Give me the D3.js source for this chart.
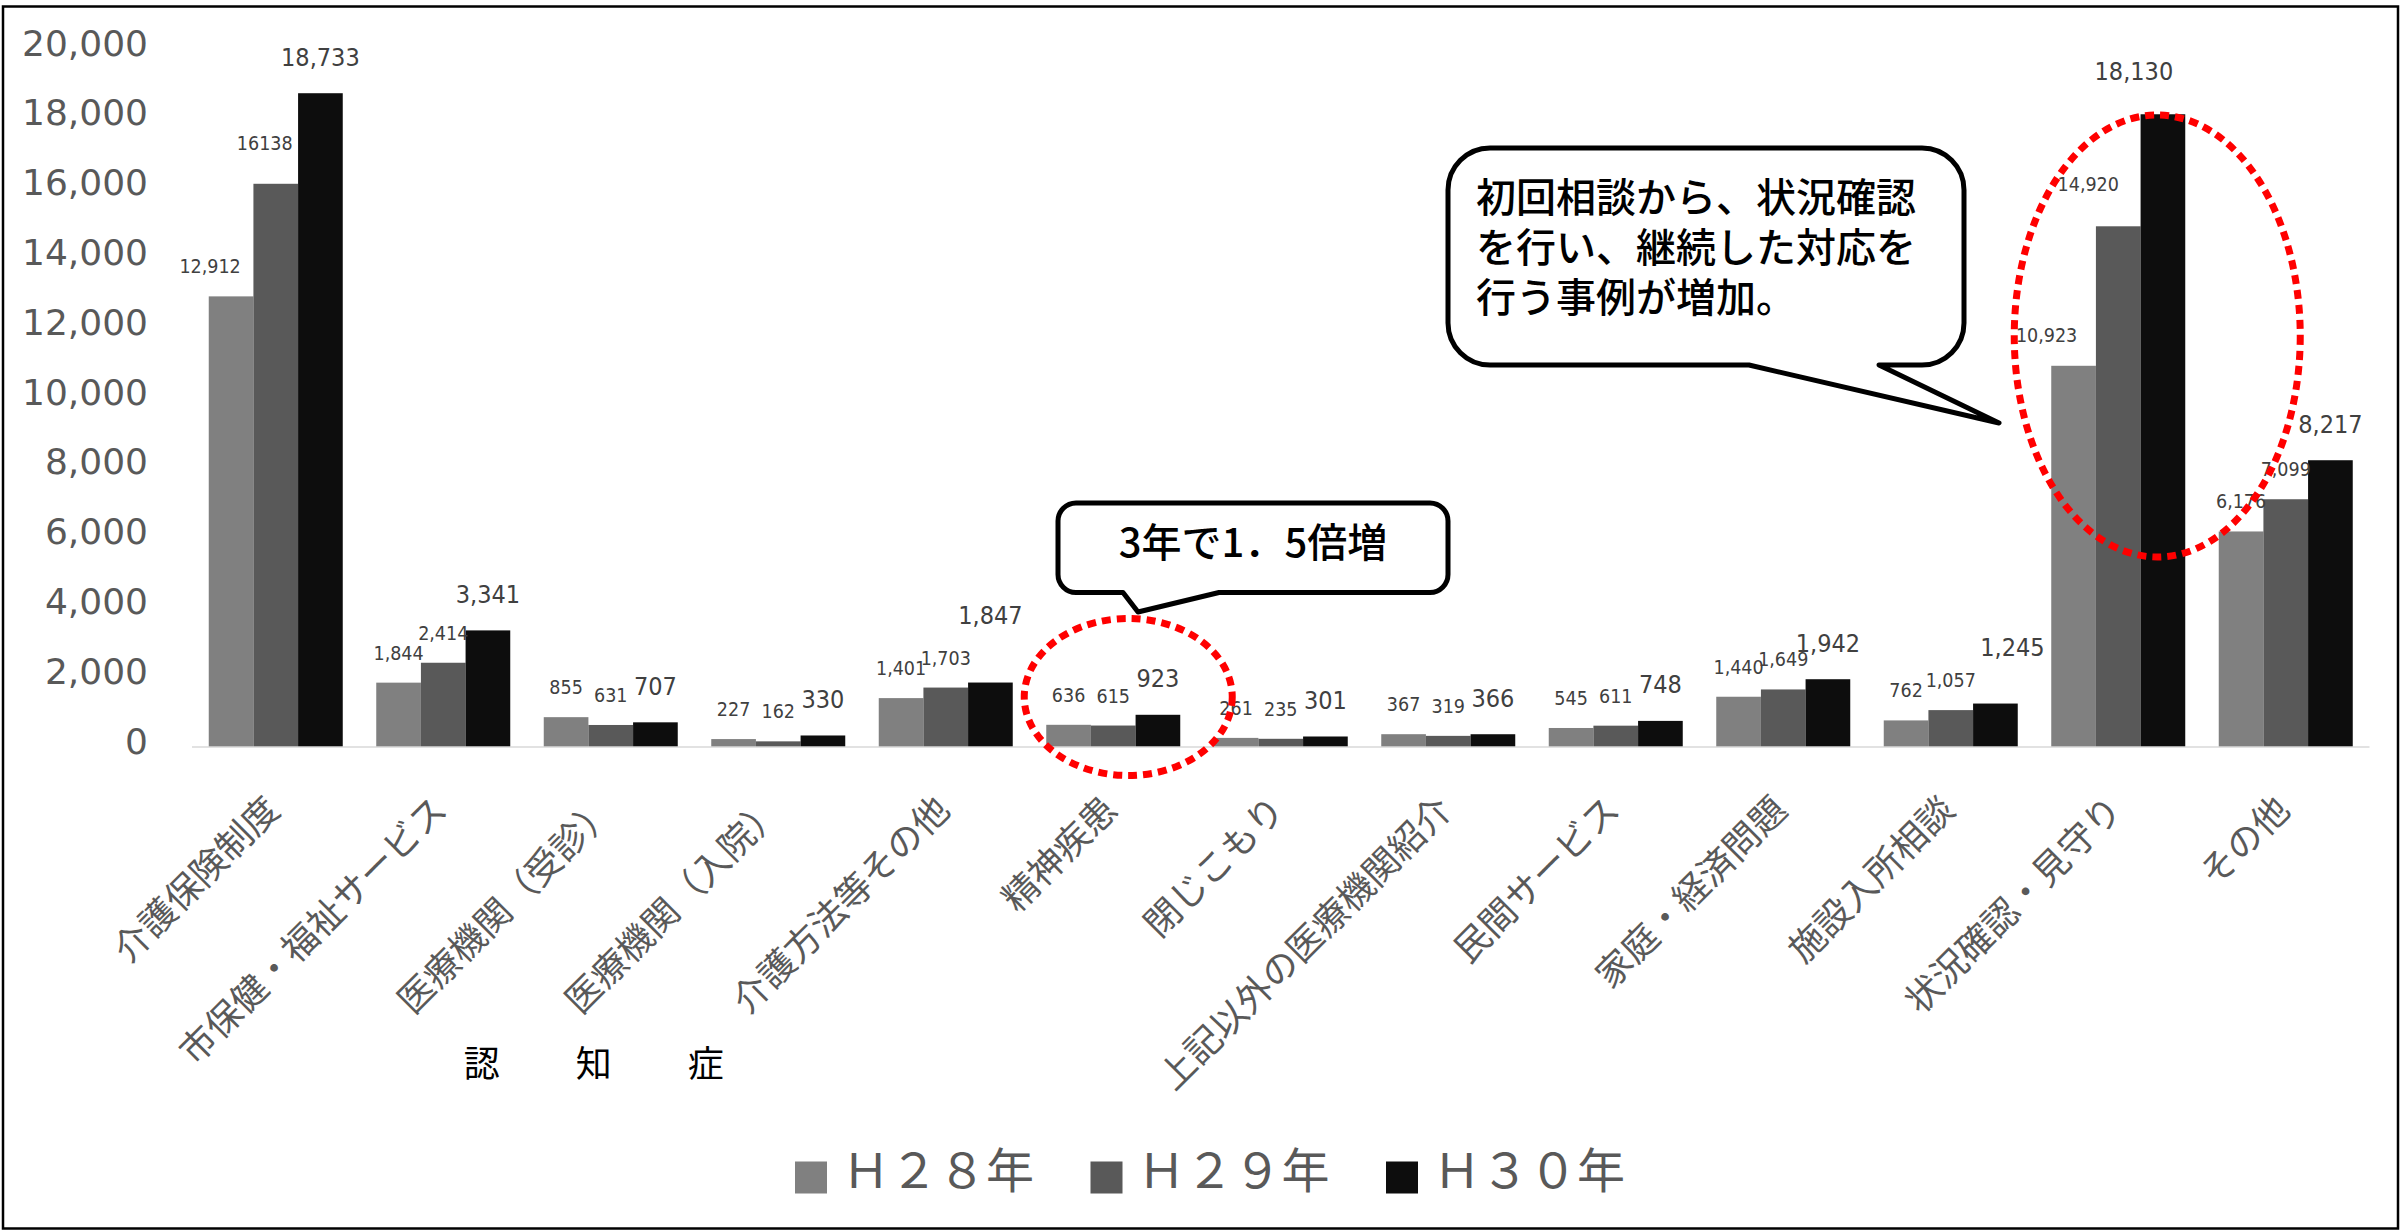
<!DOCTYPE html>
<html>
<head>
<meta charset="utf-8">
<script src="https://d3js.org/d3.v7.min.js"></script>
<style>
  body { margin: 0; background: #fff; }
  svg { display: block; }
</style>
</head>
<body>
<div id="chart"></div>
<script>
// data
const categories = ["介護保険制度", "市保健・福祉サービス", "医療機関（受診）", "医療機関（入院）",
  "介護方法等その他", "精神疾患", "閉じこもり", "上記以外の医療機関紹介", "民間サービス",
  "家庭・経済問題", "施設入所相談", "状況確認・見守り", "その他"];
const h28 = [12912, 1844, 855, 227, 1401, 636, 261, 367, 545, 1440, 762, 10923, 6176];
const h29 = [16138, 2414, 631, 162, 1703, 615, 235, 319, 611, 1649, 1057, 14920, 7099];
const h30 = [18733, 3341, 707, 330, 1847, 923, 301, 366, 748, 1942, 1245, 18130, 8217];
const seriesNames = ["Ｈ２８年", "Ｈ２９年", "Ｈ３０年"];
const yTicks = [0, 2000, 4000, 6000, 8000, 10000, 12000, 14000, 16000, 18000, 20000];
const groupLabel = "認知症";
const note1 = ["3年で1．5倍増"];
const note2 = ["初回相談から、状況確認", "を行い、継続した対応を", "行う事例が増加。"];

const W = 2405, H = 1232;
const colors = ["#808080", "#595959", "#0d0d0d"];

// labels that were dragged by hand in the original
const nudge = {
  "介護保険制度|0": [-21, 0],
  "介護保険制度|1": [-11, -11],
  "介護方法等その他|2": [0, -31],
  "施設入所相談|2": [17, -20],
  "状況確認・見守り|0": [-27, -1],
  "状況確認・見守り|1": [-30, -12],
  "状況確認・見守り|2": [-29, -7]
};
const noComma = {"介護保険制度|1": true};

const rows = categories.map((c, i) => ({cat: c, vals: [h28[i], h29[i], h30[i]]}));

const svg = d3.select("#chart").append("svg")
  .attr("width", W).attr("height", H);

svg.append("rect").attr("x", 3).attr("y", 6.5).attr("width", 2395).attr("height", 1222)
  .attr("fill", "#fff").attr("stroke", "#000").attr("stroke-width", 2.5);

const x = d3.scaleBand().domain(categories).range([192, 2369.5])
  .paddingInner(0.2).paddingOuter(0.1);
const xs = d3.scaleBand().domain([0, 1, 2]).range([0, x.bandwidth()]);
const y = d3.scaleLinear().domain([0, 20000]).range([747, 49]);

// y axis labels only
const yAxis = svg.append("g").attr("transform", "translate(148,0)")
  .call(d3.axisLeft(y).tickValues(yTicks).tickFormat(d3.format(",")).tickSize(0).tickPadding(0));
yAxis.select(".domain").remove();
yAxis.selectAll("text")
  .attr("font-family", "'DejaVu Sans', Verdana, sans-serif")
  .attr("font-size", 36).attr("fill", "#595959")
  .attr("dy", null).attr("y", 6);

// bars
const groups = svg.append("g").selectAll("g").data(rows).enter().append("g")
  .attr("transform", d => "translate(" + x(d.cat) + ",0)");

groups.selectAll("rect").data(d => d.vals.map((v, k) => ({cat: d.cat, k: k, v: v})))
  .enter().append("rect")
  .attr("x", d => xs(d.k))
  .attr("y", d => y(d.v))
  .attr("width", xs.bandwidth())
  .attr("height", d => y(0) - y(d.v))
  .attr("fill", d => colors[d.k]);

// category axis line
svg.append("line")
  .attr("x1", x.range()[0]).attr("x2", x.range()[1])
  .attr("y1", y(0)).attr("y2", y(0))
  .attr("stroke", "#d9d9d9").attr("stroke-width", 1.5);

// value labels
groups.selectAll("text.val").data(d => d.vals.map((v, k) => ({cat: d.cat, k: k, v: v})))
  .enter().append("text").attr("class", "val")
  .attr("x", d => xs(d.k) + xs.bandwidth() / 2 + (nudge[d.cat + "|" + d.k] || [0, 0])[0])
  .attr("y", d => y(d.v) - (d.k == 2 ? 27.5 : 23) + (nudge[d.cat + "|" + d.k] || [0, 0])[1])
  .attr("text-anchor", "middle")
  .attr("font-family", "'DejaVu Sans Condensed', 'DejaVu Sans', sans-serif")
  .attr("font-size", d => d.k == 2 ? 25 : 19.5)
  .attr("fill", "#404040")
  .text(d => noComma[d.cat + "|" + d.k] ? String(d.v) : d3.format(",")(d.v));

// category labels, rotated
svg.append("g").selectAll("text").data(categories).enter().append("text")
  .attr("transform", d => "translate(" + (x(d) + x.bandwidth() / 2 + 6) + ",812) rotate(-45)")
  .attr("text-anchor", "end")
  .attr("font-family", "'Noto Sans CJK JP', sans-serif")
  .attr("font-size", 36).attr("fill", "#595959")
  .text(d => d);

// 認 知 症 under the two 医療機関 categories
svg.append("g").selectAll("text").data(groupLabel.split("")).enter().append("text")
  .attr("x", (d, i) => x(categories[2]) + x.bandwidth() / 2 - 17 + (i - 1) * 112)
  .attr("y", 1061)
  .attr("text-anchor", "middle").attr("dominant-baseline", "central")
  .attr("font-family", "'Noto Sans CJK JP', sans-serif")
  .attr("font-size", 36).attr("fill", "#000")
  .text(d => d);

// legend
const leg = svg.append("g").selectAll("g").data(seriesNames).enter().append("g")
  .attr("transform", (d, i) => "translate(" + (795 + i * 295.5) + ",0)");
leg.append("rect").attr("x", 0).attr("y", 1161.5).attr("width", 32).attr("height", 32)
  .attr("fill", (d, i) => colors[i]);
leg.append("text").attr("x", 47).attr("y", 1188)
  .attr("font-family", "'Noto Sans CJK JP', sans-serif")
  .attr("font-size", 48).attr("fill", "#595959")
  .text(d => d);

// red dotted rings
const rings = [
  {cat: "精神疾患", dx: 15, cy: 697, rx: 104, ry: 78.5},
  {cat: "状況確認・見守り", dx: 39, cy: 336, rx: 143, ry: 221}
];
svg.append("g").selectAll("ellipse").data(rings).enter().append("ellipse")
  .attr("cx", d => x(d.cat) + x.bandwidth() / 2 + d.dx)
  .attr("cy", d => d.cy).attr("rx", d => d.rx).attr("ry", d => d.ry)
  .attr("fill", "none").attr("stroke", "#ff0000")
  .attr("stroke-width", 7).attr("stroke-dasharray", "9 6");

// speech bubbles
function bubble(x0, y0, x1, y1, r, ta, tb, tip) {
  return "M" + (x0 + r) + "," + y0 + " H" + (x1 - r) +
    " A" + r + "," + r + " 0 0 1 " + x1 + "," + (y0 + r) +
    " V" + (y1 - r) +
    " A" + r + "," + r + " 0 0 1 " + (x1 - r) + "," + y1 +
    " H" + tb + " L" + tip[0] + "," + tip[1] + " L" + ta + "," + y1 +
    " H" + (x0 + r) +
    " A" + r + "," + r + " 0 0 1 " + x0 + "," + (y1 - r) +
    " V" + (y0 + r) +
    " A" + r + "," + r + " 0 0 1 " + (x0 + r) + "," + y0 + " Z";
}

svg.append("path")
  .attr("d", bubble(1058, 503, 1448, 592.5, 18, 1123, 1219, [1138, 612]))
  .attr("fill", "#fff").attr("stroke", "#000").attr("stroke-width", 5)
  .attr("stroke-linejoin", "round");
svg.append("text").attr("x", 1253).attr("y", 557)
  .attr("text-anchor", "middle")
  .attr("font-family", "'Noto Sans CJK JP', sans-serif")
  .attr("font-size", 40).attr("font-weight", 500).attr("fill", "#000")
  .text(note1[0]);

svg.append("path")
  .attr("d", bubble(1448, 148, 1964, 365, 42, 1749, 1879, [1999, 423]))
  .attr("fill", "#fff").attr("stroke", "#000").attr("stroke-width", 5)
  .attr("stroke-linejoin", "round");
svg.append("g").selectAll("text").data(note2).enter().append("text")
  .attr("x", 1476).attr("y", (d, i) => 212 + i * 50)
  .attr("font-family", "'Noto Sans CJK JP', sans-serif")
  .attr("font-size", 40).attr("font-weight", 500).attr("fill", "#000")
  .text(d => d);
</script>
</body>
</html>
